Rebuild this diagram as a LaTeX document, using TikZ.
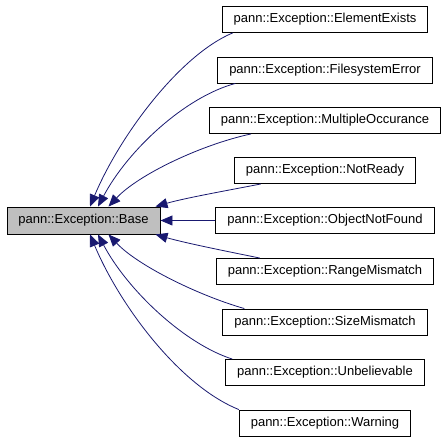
\documentclass[tikz,border=0pt]{standalone}
\usepackage{fontspec}
\setmainfont{Liberation Sans}
\usetikzlibrary{arrows.meta}
\definecolor{edgeblue}{HTML}{191970}
\definecolor{basegray}{HTML}{BFBFBF}
\tikzset{
  cls/.style={draw=black,line width=0.9pt,inner xsep=11.5pt,inner ysep=0pt,
    minimum height=26pt,font=\fontsize{13}{15}\selectfont,anchor=center},
  basecls/.style={cls,fill=basegray,minimum height=27pt},
  inherit/.style={draw=edgeblue,line width=0.8pt,
    -{Triangle[length=12pt,width=10pt]}}
}
\begin{document}
\begin{tikzpicture}[x=1pt,y=1pt]
\useasboundingbox (0,-443) rectangle (445,0);
\node[basecls] (base) at (83.5,-220.5) {pann::Exception::Base};
\node[cls] (ee)  at (325,-19.5)  {pann::Exception::ElementExists};
\node[cls] (fs)  at (325,-70)    {pann::Exception::FilesystemError};
\node[cls] (mo)  at (325,-120.5) {pann::Exception::MultipleOccurance};
\node[cls] (nr)  at (325,-170.5) {pann::Exception::NotReady};
\node[cls] (onf) at (325,-220.5) {pann::Exception::ObjectNotFound};
\node[cls] (rm)  at (325,-271.5) {pann::Exception::RangeMismatch};
\node[cls] (sm)  at (325,-322)   {pann::Exception::SizeMismatch};
\node[cls] (unb) at (325,-372.5) {pann::Exception::Unbelievable};
\node[cls] (w)   at (325,-423)   {pann::Exception::Warning};

\draw[inherit] ([xshift=11pt]ee.south west) .. controls (180,-55) and (120,-135) .. ([xshift=6.5pt]base.north);
\draw[inherit] ([xshift=18pt]fs.south west) .. controls (185,-97) and (128,-150) .. ([xshift=14.5pt]base.north);
\draw[inherit] ([xshift=42pt]mo.south west) .. controls (200,-145) and (138,-175) .. ([xshift=25pt]base.north);
\draw[inherit] ([xshift=27pt]nr.south west) .. controls (230,-190) and (185,-198) .. ([xshift=-5pt]base.north east);
\draw[inherit] (onf.west) -- (base.east);
\draw[inherit] ([xshift=44pt]rm.north west) .. controls (230,-252) and (185,-243) .. ([xshift=-5pt]base.south east);
\draw[inherit] ([xshift=22pt]sm.north west) .. controls (200,-296) and (138,-266) .. ([xshift=25pt]base.south);
\draw[inherit] ([xshift=7pt]unb.north west) .. controls (185,-344) and (128,-291) .. ([xshift=14.5pt]base.south);
\draw[inherit] (w.north west) .. controls (180,-386) and (120,-306) .. ([xshift=6.5pt]base.south);
\end{tikzpicture}
\end{document}
